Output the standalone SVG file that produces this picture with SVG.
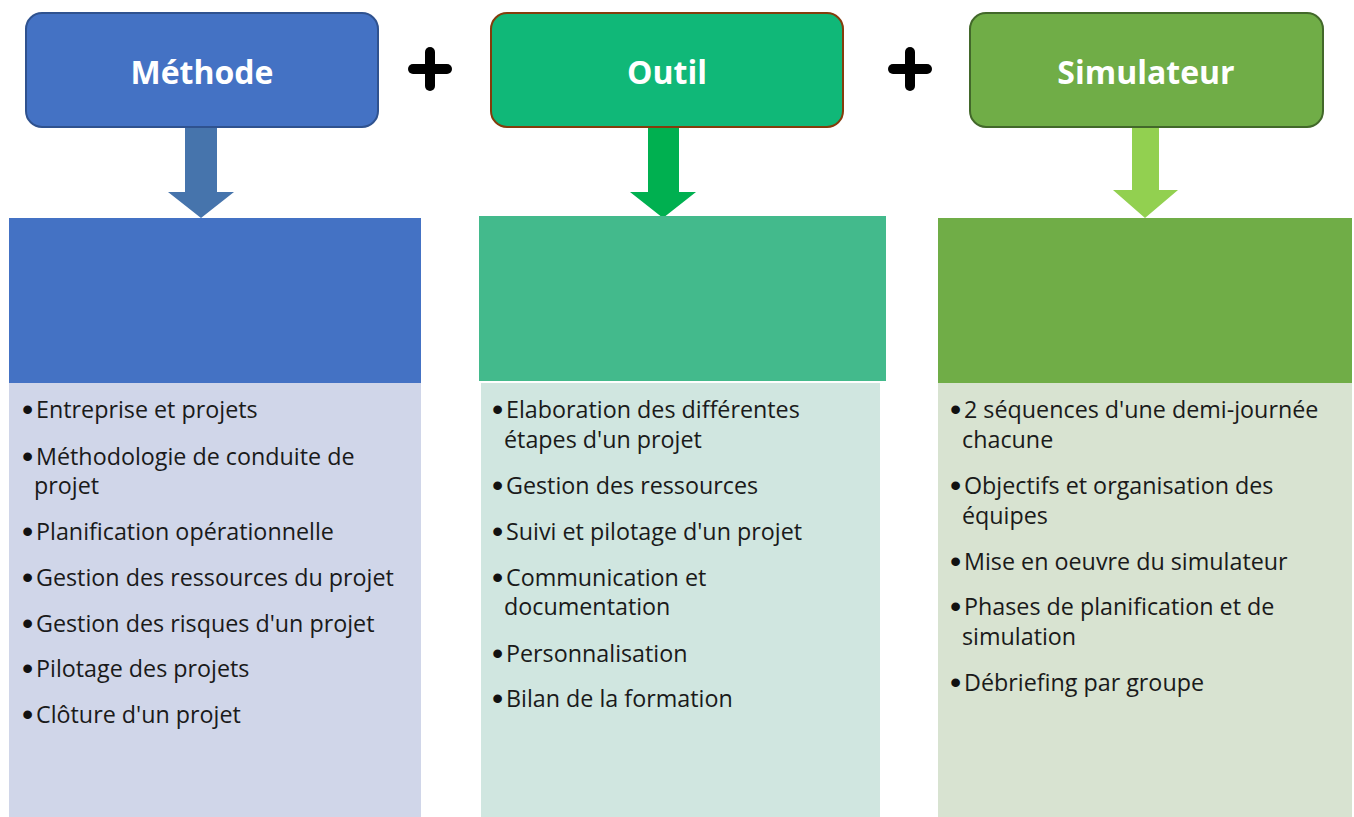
<svg xmlns="http://www.w3.org/2000/svg" width="1354" height="817" viewBox="0 0 1354 817">
<style>
.title{font-family:"Open Sans","Noto Sans",sans-serif;font-weight:700;font-size:32px;fill:#fff;text-anchor:middle}
.item{font-family:"Open Sans","Noto Sans",sans-serif;font-size:23.3px;fill:#1a1a1a}
.b{font-family:"Liberation Sans",Arial,sans-serif;font-size:32px;fill:#111}
.plus{stroke:#000;stroke-width:10;stroke-linecap:round}
</style>
<rect width="1354" height="817" fill="#fff"/>
<g id="plus1"><line class="plus" x1="413" y1="69" x2="447" y2="69"/><line class="plus" x1="430" y1="52" x2="430" y2="86"/></g>
<g id="plus2"><line class="plus" x1="893" y1="69" x2="927" y2="69"/><line class="plus" x1="910" y1="52" x2="910" y2="86"/></g>
<g id="connectors">
<path d="M185 125 H217 V192 H234 L201 218 L168 192 H185 Z" fill="#4674AC"/>
<path d="M648 125 H679 V192 H696 L663 218 L630 192 H648 Z" fill="#00B050"/>
<path d="M1132 125 H1159 V190 H1178 L1145 218 L1113 190 H1132 Z" fill="#92D050"/>
</g>
<g id="methode">
<rect x="26" y="13" width="352" height="114" rx="16" fill="#4472C4" stroke="#2F528F" stroke-width="2"/>
<text class="title" x="202" y="84">Méthode</text>
</g>
<g id="outil">
<rect x="491" y="13" width="352" height="114" rx="16" fill="#10B878" stroke="#843C0C" stroke-width="2"/>
<text class="title" x="667" y="84">Outil</text>
</g>
<g id="simulateur">
<rect x="970" y="13" width="353" height="114" rx="16" fill="#70AD47" stroke="#42682A" stroke-width="2"/>
<text class="title" x="1146" y="84">Simulateur</text>
</g>
<g id="methode-list">
<rect x="9" y="218" width="412" height="165" fill="#4472C4"/>
<rect x="9" y="383" width="412" height="434" fill="#D0D6E9"/>
<text class="b" x="22" y="420">•</text><text class="item" x="36" y="418">Entreprise et projets</text>
<text class="b" x="22" y="467">•</text><text class="item" x="36" y="465">Méthodologie de conduite de</text>
<text class="item" x="34" y="494">projet</text>
<text class="b" x="22" y="542">•</text><text class="item" x="36" y="540">Planification opérationnelle</text>
<text class="b" x="22" y="588">•</text><text class="item" x="36" y="586">Gestion des ressources du projet</text>
<text class="b" x="22" y="634">•</text><text class="item" x="36" y="632">Gestion des risques d'un projet</text>
<text class="b" x="22" y="679">•</text><text class="item" x="36" y="677">Pilotage des projets</text>
<text class="b" x="22" y="725">•</text><text class="item" x="36" y="723">Clôture d'un projet</text>
</g>
<g id="outil-list">
<rect x="479" y="216" width="407" height="165" fill="#43BA8C"/>
<rect x="481" y="383" width="399" height="434" fill="#D0E6E0"/>
<text class="b" x="492" y="420">•</text><text class="item" x="506" y="418">Elaboration des différentes</text>
<text class="item" x="504" y="448">étapes d'un projet</text>
<text class="b" x="492" y="496">•</text><text class="item" x="506" y="494">Gestion des ressources</text>
<text class="b" x="492" y="542">•</text><text class="item" x="506" y="540">Suivi et pilotage d'un projet</text>
<text class="b" x="492" y="588">•</text><text class="item" x="506" y="586">Communication et</text>
<text class="item" x="504" y="615">documentation</text>
<text class="b" x="492" y="664">•</text><text class="item" x="506" y="662">Personnalisation</text>
<text class="b" x="492" y="709">•</text><text class="item" x="506" y="707">Bilan de la formation</text>
</g>
<g id="simulateur-list">
<rect x="938" y="218" width="414" height="165" fill="#70AD47"/>
<rect x="938" y="383" width="414" height="434" fill="#D8E3D1"/>
<text class="b" x="950" y="420">•</text><text class="item" x="964" y="418">2 séquences d'une demi-journée</text>
<text class="item" x="962" y="448">chacune</text>
<text class="b" x="950" y="496">•</text><text class="item" x="964" y="494">Objectifs et organisation des</text>
<text class="item" x="962" y="524">équipes</text>
<text class="b" x="950" y="572">•</text><text class="item" x="964" y="570">Mise en oeuvre du simulateur</text>
<text class="b" x="950" y="617">•</text><text class="item" x="964" y="615">Phases de planification et de</text>
<text class="item" x="962" y="645">simulation</text>
<text class="b" x="950" y="693">•</text><text class="item" x="964" y="691">Débriefing par groupe</text>
</g>
</svg>
